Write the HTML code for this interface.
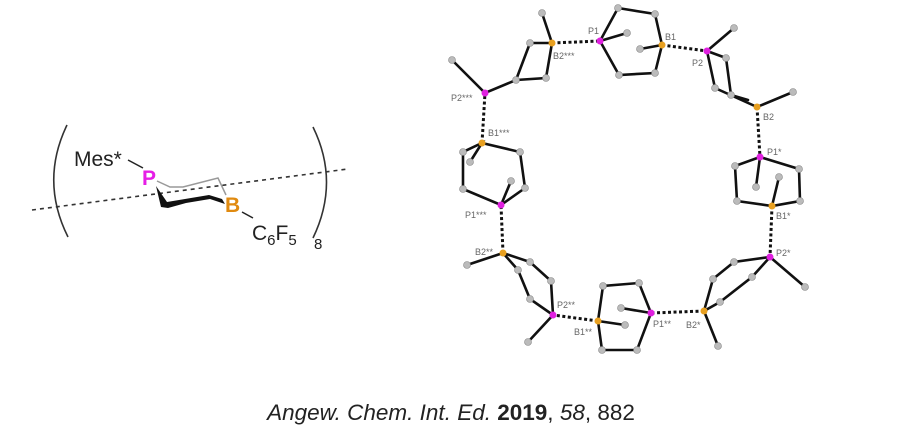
<!DOCTYPE html>
<html><head><meta charset="utf-8"><style>
body{margin:0;background:#fff;}
svg{display:block;font-family:"Liberation Sans",sans-serif;}
</style></head><body>
<svg width="906" height="426" viewBox="0 0 906 426" xmlns="http://www.w3.org/2000/svg">
<g fill="none" stroke="#333" stroke-width="1.6">
<path d="M67,125 Q40,181 68,237"/>
<path d="M313,127 Q340,182 313,238"/>
</g>
<line x1="32" y1="210" x2="348" y2="169" stroke="#333" stroke-width="1.6" stroke-dasharray="4,4"/>
<line x1="128" y1="160" x2="143" y2="168" stroke="#222" stroke-width="1.5"/>
<polyline points="157,181 170,187 183,187 218,178 226,195" fill="none" stroke="#999" stroke-width="1.5"/>
<path d="M156,186 L161,207 L168,208 L186,203 L210,199 L225,204 L222,199 L209,195 L185,199 L167,202 Z" fill="#111"/>
<line x1="242" y1="212" x2="253" y2="218" stroke="#222" stroke-width="1.5"/>
<text x="74" y="166" font-size="21" fill="#222">Mes*</text>
<text x="142" y="185" font-size="21" font-weight="bold" fill="#e61ee6">P</text>
<text x="225" y="212" font-size="21" font-weight="bold" fill="#e08a10">B</text>
<text x="252" y="240" font-size="21" fill="#222">C<tspan font-size="15" dy="5">6</tspan><tspan dy="-5">F</tspan><tspan font-size="15" dy="5">5</tspan></text>
<text x="314" y="249" font-size="15" fill="#222">8</text>

<g stroke="#111" stroke-width="2.6" stroke-linecap="round" fill="none">
<polyline points="542,13 552,43"/>
<polyline points="530,43 552,43 546,78 516,80 530,43"/>
<polyline points="452,60 485,93 516,80"/>
<polyline points="600,41 618,8 655,14 662,45 655,73 619,75 600,41"/>
<polyline points="600,41 627,33"/>
<polyline points="662,45 640,49"/>
<polyline points="734,28 707,51 715,88 757,107 793,92"/>
<polyline points="707,51 726,58 731,95 748,100"/>
<polyline points="470,162 482,143 463,152 463,189 501,205 525,188 520,152 482,143"/>
<polyline points="501,205 511,181"/>
<polyline points="760,157 735,166 737,201 772,206 800,201 799,169 760,157"/>
<polyline points="760,157 756,187"/>
<polyline points="772,206 779,177"/>
<polyline points="467,265 503,253 530,262 551,281 553,315 528,342"/>
<polyline points="503,253 518,270 530,299 553,315"/>
<polyline points="598,321 603,286 639,283 651,313 637,350 602,350 598,321"/>
<polyline points="598,321 625,325"/>
<polyline points="651,313 621,308"/>
<polyline points="718,346 704,311 713,279 734,262 770,257 805,287"/>
<polyline points="704,311 720,302 752,277 770,257"/>
</g>
<g stroke="#111" stroke-width="3" stroke-dasharray="3,2.5" fill="none">
<line x1="552" y1="43" x2="600" y2="41"/>
<line x1="662" y1="45" x2="707" y2="51"/>
<line x1="757" y1="107" x2="760" y2="157"/>
<line x1="772" y1="206" x2="770" y2="257"/>
<line x1="704" y1="311" x2="651" y2="313"/>
<line x1="598" y1="321" x2="553" y2="315"/>
<line x1="503" y1="253" x2="501" y2="205"/>
<line x1="482" y1="143" x2="485" y2="93"/>
</g>
<g fill="#bbb" stroke="#888" stroke-width="0.6">
<circle cx="542" cy="13" r="3.5"/><circle cx="530" cy="43" r="3.5"/><circle cx="546" cy="78" r="3.5"/><circle cx="516" cy="80" r="3.5"/><circle cx="452" cy="60" r="3.5"/>
<circle cx="618" cy="8" r="3.5"/><circle cx="655" cy="14" r="3.5"/><circle cx="655" cy="73" r="3.5"/><circle cx="619" cy="75" r="3.5"/><circle cx="627" cy="33" r="3.5"/><circle cx="640" cy="49" r="3.5"/>
<circle cx="734" cy="28" r="3.5"/><circle cx="715" cy="88" r="3.5"/><circle cx="726" cy="58" r="3.5"/><circle cx="731" cy="95" r="3.5"/><circle cx="793" cy="92" r="3.5"/>
<circle cx="470" cy="162" r="3.5"/><circle cx="463" cy="152" r="3.5"/><circle cx="463" cy="189" r="3.5"/><circle cx="525" cy="188" r="3.5"/><circle cx="520" cy="152" r="3.5"/><circle cx="511" cy="181" r="3.5"/>
<circle cx="735" cy="166" r="3.5"/><circle cx="737" cy="201" r="3.5"/><circle cx="800" cy="201" r="3.5"/><circle cx="799" cy="169" r="3.5"/><circle cx="756" cy="187" r="3.5"/><circle cx="779" cy="177" r="3.5"/>
<circle cx="467" cy="265" r="3.5"/><circle cx="530" cy="262" r="3.5"/><circle cx="551" cy="281" r="3.5"/><circle cx="518" cy="270" r="3.5"/><circle cx="530" cy="299" r="3.5"/><circle cx="528" cy="342" r="3.5"/>
<circle cx="603" cy="286" r="3.5"/><circle cx="639" cy="283" r="3.5"/><circle cx="637" cy="350" r="3.5"/><circle cx="602" cy="350" r="3.5"/><circle cx="625" cy="325" r="3.5"/><circle cx="621" cy="308" r="3.5"/>
<circle cx="718" cy="346" r="3.5"/><circle cx="713" cy="279" r="3.5"/><circle cx="734" cy="262" r="3.5"/><circle cx="720" cy="302" r="3.5"/><circle cx="752" cy="277" r="3.5"/><circle cx="805" cy="287" r="3.5"/>
</g>
<g fill="#e020e0">
<circle cx="600" cy="41" r="3.5"/><circle cx="707" cy="51" r="3.5"/><circle cx="760" cy="157" r="3.5"/><circle cx="770" cy="257" r="3.5"/>
<circle cx="651" cy="313" r="3.5"/><circle cx="553" cy="315" r="3.5"/><circle cx="501" cy="205" r="3.5"/><circle cx="485" cy="93" r="3.5"/>
</g>
<g fill="#e8a020">
<circle cx="552" cy="43" r="3.5"/><circle cx="662" cy="45" r="3.5"/><circle cx="757" cy="107" r="3.5"/><circle cx="772" cy="206" r="3.5"/>
<circle cx="704" cy="311" r="3.5"/><circle cx="598" cy="321" r="3.5"/><circle cx="503" cy="253" r="3.5"/><circle cx="482" cy="143" r="3.5"/>
</g>
<g font-size="9" fill="#666">
<text x="588" y="34">P1</text><text x="665" y="40">B1</text><text x="692" y="66">P2</text><text x="763" y="120">B2</text>
<text x="767" y="155">P1*</text><text x="776" y="219">B1*</text><text x="776" y="256">P2*</text><text x="686" y="328">B2*</text>
<text x="653" y="327">P1**</text><text x="574" y="335">B1**</text><text x="557" y="308">P2**</text><text x="475" y="255">B2**</text>
<text x="465" y="218">P1***</text><text x="488" y="136">B1***</text><text x="451" y="101">P2***</text><text x="553" y="59">B2***</text>
</g>
<text x="451" y="420" font-size="22.5" fill="#222" text-anchor="middle"><tspan font-style="italic">Angew. Chem. Int. Ed.</tspan> <tspan font-weight="bold">2019</tspan>, <tspan font-style="italic">58</tspan>, 882</text>
</svg>
</body></html>
